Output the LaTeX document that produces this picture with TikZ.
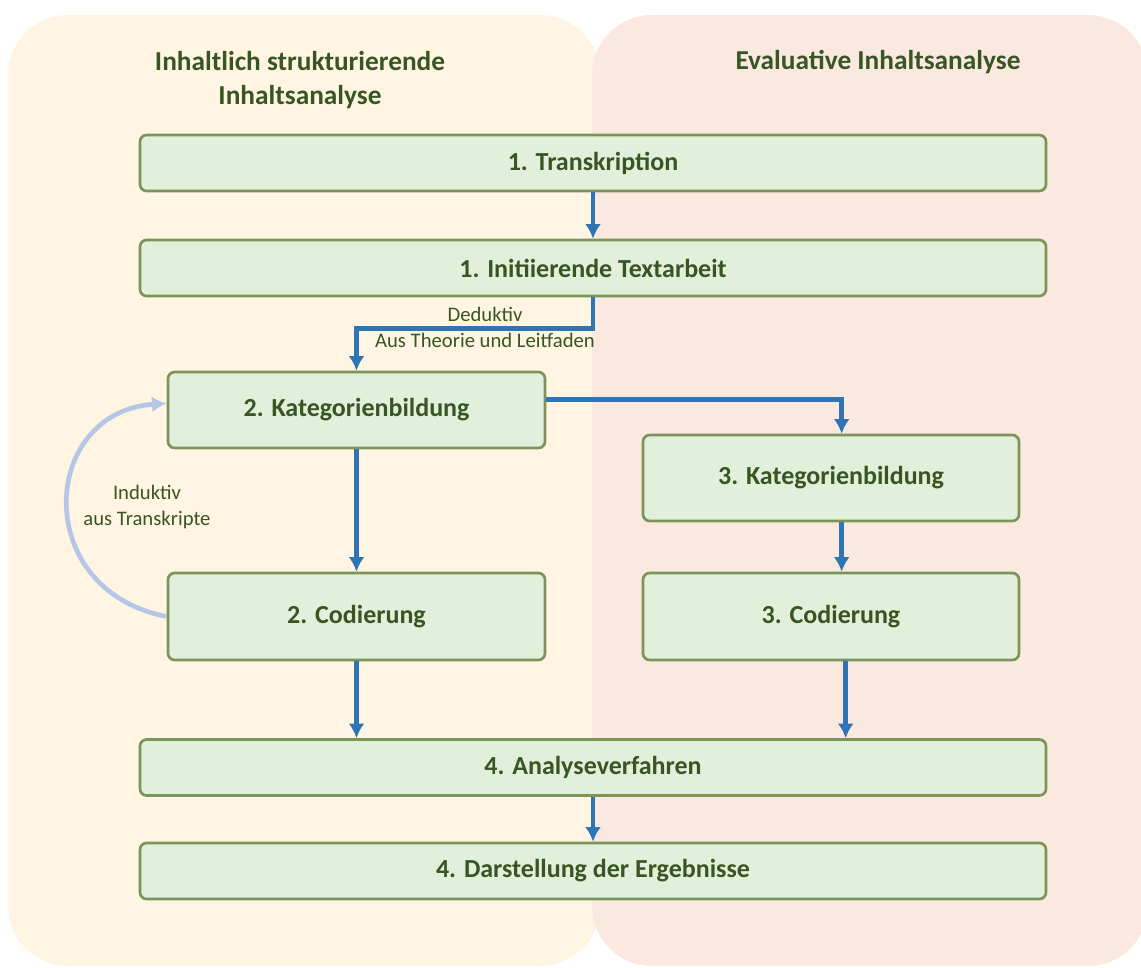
\documentclass[tikz,border=0pt]{standalone}
\usepackage{fontspec}
\setmainfont{Carlito}
\usepackage{tikz}
\usetikzlibrary{arrows.meta,positioning}
\definecolor{txtgreen}{HTML}{375623}
\definecolor{boxfill}{HTML}{E2EFDA}
\definecolor{boxline}{HTML}{7A9459}
\definecolor{leftbg}{HTML}{FFF5E2}
\definecolor{rightbg}{HTML}{FBE9E0}
\definecolor{flowblue}{HTML}{2E75B6}
\definecolor{lightblue}{HTML}{B4C7E7}
\tikzset{
block/.style={
    rectangle,
    draw=boxline,
    fill=boxfill,
    line width=2pt,
    rounded corners=5pt,
    text=txtgreen,
    font=\fontsize{19.5}{22}\selectfont\bfseries,
    align=center,
    inner sep=0pt
},
header/.style={
    text=txtgreen,
    font=\fontsize{20.5}{26}\selectfont\bfseries,
    align=center
},
descr/.style={
    text=txtgreen,
    font=\fontsize{15.5}{19.5}\selectfont,
    align=center,
    inner sep=1pt
},
connector/.style={
    -{Latex[length=11pt,width=12pt]},
    draw=flowblue,
    line width=3.5pt
},
induct/.style={
    -{Latex[length=11pt,width=12pt]},
    draw=lightblue,
    line width=3.5pt
}
}

\begin{document}
\begin{tikzpicture}[x=0.75pt,y=-0.75pt]
\useasboundingbox (0,0) rectangle (1141,967);
% background columns
\fill[leftbg,rounded corners=45pt] (8,15) rectangle (600,966);
\fill[rightbg,rounded corners=45pt] (592,15) rectangle (1148,966);

\node[header] (hleft) at (300,80) {Inhaltlich strukturierende\\Inhaltsanalyse};
\node[header] (hright) at (878,62) {Evaluative Inhaltsanalyse};

% steps
\node[block,minimum width=906*0.75pt,minimum height=56*0.75pt] (trans) at (593,163) {1. Transkription};
\node[block,minimum width=906*0.75pt,minimum height=56*0.75pt] (init) at (593,268) {1. Initiierende Textarbeit};
\node[block,minimum width=377*0.75pt,minimum height=76*0.75pt] (kat2) at (356.5,410) {2. Kategorienbildung};
\node[block,minimum width=376*0.75pt,minimum height=86*0.75pt] (kat3) at (831,478) {3. Kategorienbildung};
\node[block,minimum width=377*0.75pt,minimum height=87*0.75pt] (cod2) at (356.5,616.5) {2. Codierung};
\node[block,minimum width=376*0.75pt,minimum height=87*0.75pt] (cod3) at (831,616.5) {3. Codierung};
\node[block,minimum width=906*0.75pt,minimum height=56*0.75pt] (ana) at (593,767.5) {4. Analyseverfahren};
\node[block,minimum width=906*0.75pt,minimum height=56*0.75pt] (erg) at (593,871) {4. Darstellung der Ergebnisse};

% connectors
\draw[connector] (trans) -- (init);
\draw[connector] (init.south) -- ++(0,31) coordinate (bend) -| (kat2.north);
\node[descr] (ded) at (485,314) {Deduktiv};
\node[descr] (theo) at (485,340) {Aus Theorie und Leitfaden};
\draw[connector] ([yshift=8pt]kat2.east) -| ([xshift=8pt]kat3.north);
\draw[connector] (kat2) -- (cod2);
\draw[connector] ([xshift=8pt]kat3.south) -- ([xshift=8pt]cod3.north);
\draw[connector] (cod2.south) -- (cod2.south |- ana.north);
\draw[connector] ([xshift=11pt]cod3.south) -- ([xshift=11pt]cod3.south |- ana.north);
\draw[connector] (ana) -- (erg);

\draw[induct] (cod2.west) .. controls (30,590) and (40,412) .. ([yshift=5pt]kat2.west);
\node[descr] (ind) at (147,507) {Induktiv\\aus Transkripte};
\end{tikzpicture}
\end{document}
